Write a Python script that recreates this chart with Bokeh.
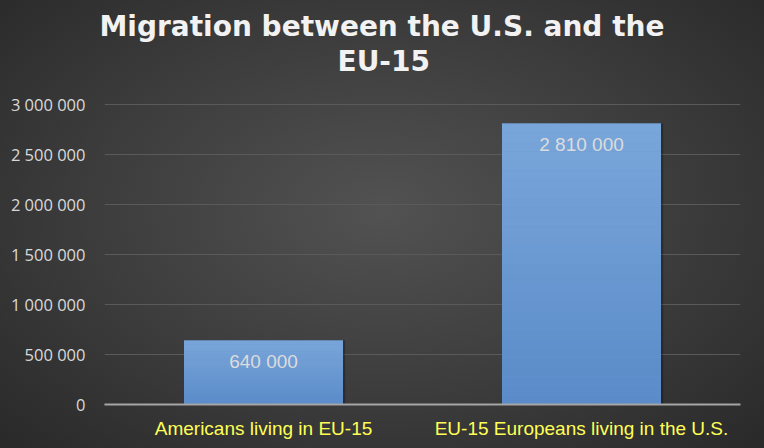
from bokeh.plotting import figure
from bokeh.models import FixedTicker, CustomJSTickFormatter, Title, ColumnDataSource, Range1d
from bokeh.transform import dodge
from bokeh.embed import file_html
from bokeh.resources import INLINE
from bokeh.core.properties import value

# ---- data ----
categories = ["Americans living in EU-15", "EU-15 Europeans living in the U.S."]
values = [640000, 2810000]
y_ticks = [0, 500000, 1000000, 1500000, 2000000, 2500000, 3000000]
title_lines = ["Migration between the U.S. and the", "EU-15"]

value_labels = [f"{v:,}".replace(",", " ") for v in values]

p = figure(width=764, height=448, x_range=categories, y_range=Range1d(0, 3010000),
           output_backend="svg", toolbar_location=None,
           min_border_left=104, min_border_right=24, min_border_top=103, min_border_bottom=44)

p.background_fill_color = None
p.border_fill_color = None
p.outline_line_color = None
p.styles = {"background": "radial-gradient(ellipse at 50% 47%, #525252 0%, #3c3c3c 55%, #292929 100%)"}

# grid
p.xgrid.grid_line_color = None
p.ygrid.grid_line_color = "#5a5a5a"
p.ygrid.grid_line_width = 1

# y axis
p.yaxis.ticker = FixedTicker(ticks=y_ticks)
p.yaxis.formatter = CustomJSTickFormatter(code="return tick.toFixed(0).replace(/\\B(?=(\\d{3})+(?!\\d))/g, ' ');")
p.yaxis.axis_line_color = None
p.yaxis.major_tick_line_color = None
p.yaxis.minor_tick_line_color = None
p.yaxis.major_label_text_color = "#d9d9d9"
p.yaxis.major_label_text_font = "Open Sans"
p.yaxis.major_label_text_font_size = "16.5px"
p.yaxis.major_label_standoff = 13

# x axis
p.xaxis.axis_line_color = "#a6a6a6"
p.xaxis.axis_line_width = 2
p.xaxis.major_tick_line_color = None
p.xaxis.minor_tick_line_color = None
p.xaxis.major_label_text_color = "#ffff55"
p.xaxis.major_label_text_font = "Liberation Sans"
p.xaxis.major_label_text_font_size = "19px"
p.xaxis.major_label_standoff = 7

# bar shadow
p.vbar(x=dodge("x", 0.007, range=p.x_range), top="top", width=0.5, bottom=0,
       source=ColumnDataSource(dict(x=categories, top=values)),
       fill_color="black", fill_alpha=0.25, line_color=None)

# base bar
p.vbar(x=categories, top=values, width=0.5, fill_color="#6a98d1", line_color=None)

# bars with vertical gradient (bands)
N = 30
bot_rgb = (90, 139, 200)
top_rgb = (122, 166, 218)
bx, bb, bt, bc = [], [], [], []
for c, v in zip(categories, values):
    for i in range(N):
        f = (i + 0.5) / N
        col = tuple(int(round(b + (t - b) * f)) for b, t in zip(bot_rgb, top_rgb))
        bx.append(c)
        bb.append(v * i / N)
        bt.append(v * (i + 1) / N)
        bc.append("#%02x%02x%02x" % col)
p.vbar(x=bx, bottom=bb, top=bt, width=0.5, fill_color=bc, line_color=None)

# value labels
p.text(x=categories, y=values, text=value_labels, y_offset=21,
       text_align="center", text_baseline="middle", text_color="#dcdcdc",
       text_font=value("Liberation Sans"), text_font_size="19px")

# title (two lines), centred on the canvas rather than on the frame
p.title = None
title_offsets = [-5, 233]      # left offset from frame, pixels
title_standoffs = [-53, 52]
for line, off, so in reversed(list(zip(title_lines, title_offsets, title_standoffs))):
    p.add_layout(Title(text=line, align="left", text_font="DejaVu Sans", text_font_style="bold",
                       text_font_size="28px", text_color="#f2f2f2", offset=off, standoff=so), "above")

open("out.html", "w").write(file_html(p, INLINE))
